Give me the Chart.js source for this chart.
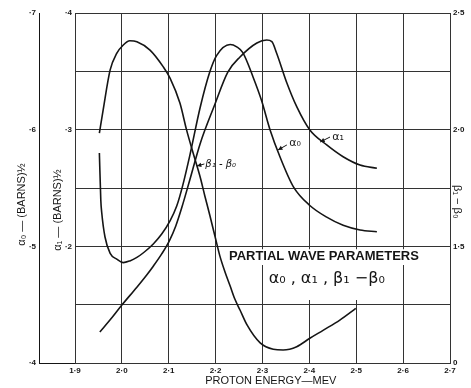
<!DOCTYPE html>
<html>
<head>
<meta charset="utf-8">
<script src="https://cdn.jsdelivr.net/npm/chart.js@4.4.1/dist/chart.umd.min.js"></script>
<style>
  html, body { margin: 0; padding: 0; background: #fff; }
</style>
</head>
<body>
<canvas id="chart" width="471" height="388"></canvas>
<script>
// values (energy in MeV)
const alpha0Energy = [1.952, 1.955, 1.957, 1.964, 1.975, 1.989, 2.003, 2.017, 2.032, 2.046, 2.067, 2.085, 2.103, 2.117, 2.130, 2.145, 2.167, 2.188, 2.202, 2.231, 2.245, 2.258, 2.280, 2.298, 2.316, 2.337, 2.366, 2.401, 2.437, 2.472, 2.508, 2.544];
const alpha0Values = [0.580, 0.540, 0.529, 0.508, 0.494, 0.489, 0.486, 0.4875, 0.4905, 0.4945, 0.502, 0.5105, 0.522, 0.5345, 0.5525, 0.578, 0.619, 0.650, 0.6635, 0.673, 0.671, 0.666, 0.645, 0.625, 0.600, 0.577, 0.551, 0.535, 0.525, 0.518, 0.514, 0.5125];

const alpha1Energy = [1.953, 1.975, 2.000, 2.032, 2.053, 2.067, 2.085, 2.101, 2.115, 2.128, 2.145, 2.167, 2.197, 2.226, 2.252, 2.288, 2.309, 2.320, 2.330, 2.352, 2.373, 2.401, 2.437, 2.472, 2.508, 2.544];
const alpha1Values = [0.1266, 0.137, 0.1497, 0.165, 0.1755, 0.183, 0.1935, 0.2045, 0.2175, 0.2335, 0.257, 0.288, 0.3203, 0.3494, 0.3623, 0.3743, 0.3768, 0.3754, 0.3657, 0.3400, 0.3197, 0.2997, 0.2869, 0.2768, 0.2697, 0.2669];

const betaEnergy = [1.952, 1.960, 1.975, 1.989, 2.003, 2.017, 2.032, 2.060, 2.088, 2.103, 2.124, 2.138, 2.152, 2.167, 2.177, 2.188, 2.199, 2.209, 2.220, 2.231, 2.241, 2.252, 2.267, 2.295, 2.323, 2.344, 2.373, 2.401, 2.430, 2.465, 2.499];
const betaValues = [1.985, 2.084, 2.256, 2.327, 2.363, 2.381, 2.377, 2.341, 2.270, 2.220, 2.113, 1.999, 1.900, 1.797, 1.716, 1.630, 1.540, 1.459, 1.390, 1.330, 1.274, 1.227, 1.163, 1.086, 1.059, 1.056, 1.070, 1.106, 1.141, 1.184, 1.234];

const xTickLabels = ['1·9', '2·0', '2·1', '2·2', '2·3', '2·4', '2·5', '2·6', '2·7'];
const alpha0TickLabels = ['·4', '·5', '·6', '·7'];
const alpha1TickLabels = ['', '', '·2', '', '·3', '', '·4'];
const betaTickLabels = ['0', '1·5', '2·0', '2·5'];

const ink = '#151515';
const gridInk = '#333';
const sans = "'Liberation Sans', 'DejaVu Sans', sans-serif";
const sp = '\u2002';

function toPoints(xs, ys) {
    return xs.map((x, i) => ({ x: x, y: ys[i] }));
}

function arrow(ctx, x1, y1, x2, y2) {
    const ang = Math.atan2(y2 - y1, x2 - x1);
    ctx.beginPath();
    ctx.moveTo(x1, y1);
    ctx.lineTo(x2, y2);
    ctx.stroke();
    ctx.beginPath();
    ctx.moveTo(x2, y2);
    ctx.lineTo(x2 - 5 * Math.cos(ang - 0.45), y2 - 5 * Math.sin(ang - 0.45));
    ctx.lineTo(x2 - 5 * Math.cos(ang + 0.45), y2 - 5 * Math.sin(ang + 0.45));
    ctx.closePath();
    ctx.fill();
}

const paperNotes = {
    id: 'paperNotes',
    beforeDatasetsDraw(chart) {
        const { ctx, scales: { x, a1 } } = chart;
        ctx.save();
        ctx.fillStyle = '#fff';
        // the draughtsman left the grid blank behind the caption
        ctx.fillRect(x.getPixelForValue(2.222), a1.getPixelForValue(0.1975), x.getPixelForValue(2.645) - x.getPixelForValue(2.222), a1.getPixelForValue(0.184) - a1.getPixelForValue(0.1975));
        ctx.fillRect(x.getPixelForValue(2.31), a1.getPixelForValue(0.184), x.getPixelForValue(2.585) - x.getPixelForValue(2.31), a1.getPixelForValue(0.154) - a1.getPixelForValue(0.184));
        ctx.restore();
    },
    afterDatasetsDraw(chart) {
        const { ctx, chartArea, scales: { x, a0, a1 } } = chart;
        ctx.save();
        ctx.fillStyle = ink;
        ctx.strokeStyle = ink;
        ctx.lineWidth = 1;

        // bottom rule runs out to the outer axis
        ctx.beginPath();
        ctx.moveTo(a0.right, chartArea.bottom + 0.5);
        ctx.lineTo(chartArea.left, chartArea.bottom + 0.5);
        ctx.stroke();

        ctx.textBaseline = 'middle';
        ctx.textAlign = 'center';
        ctx.font = 'bold 13px ' + sans;
        ctx.fillText('PARTIAL WAVE PARAMETERS', x.getPixelForValue(2.431), a1.getPixelForValue(0.1915), 192);
        ctx.font = "16px 'DejaVu Sans', sans-serif";
        ctx.fillText('α₀ , α₁ , β₁ −β₀', x.getPixelForValue(2.437), a1.getPixelForValue(0.172), 130);

        ctx.textAlign = 'left';
        ctx.font = "11px 'DejaVu Sans', sans-serif";
        ctx.fillText('α₀', x.getPixelForValue(2.357), a1.getPixelForValue(0.2886));
        arrow(ctx, x.getPixelForValue(2.352), a1.getPixelForValue(0.2869), x.getPixelForValue(2.333), a1.getPixelForValue(0.2826));
        ctx.fillText('α₁', x.getPixelForValue(2.449), a1.getPixelForValue(0.2937));
        arrow(ctx, x.getPixelForValue(2.444), a1.getPixelForValue(0.2937), x.getPixelForValue(2.423), a1.getPixelForValue(0.2894));
        ctx.font = "italic 10px 'DejaVu Sans', sans-serif";
        ctx.fillText('β₁ - β₀', x.getPixelForValue(2.178), a1.getPixelForValue(0.2706));
        arrow(ctx, x.getPixelForValue(2.176), a1.getPixelForValue(0.2706), x.getPixelForValue(2.160), a1.getPixelForValue(0.2689));
        ctx.restore();
    }
};

const tickFont = { family: sans, size: 8, weight: 'bold' };
const titleFont = { family: sans, size: 11 };

new Chart(document.getElementById('chart'), {
    type: 'line',
    data: {
        datasets: [{
            label: 'α0',
            data: toPoints(alpha0Energy, alpha0Values),
            yAxisID: 'a0',
            borderColor: ink,
            borderWidth: 1.6
        },
        {
            label: 'α1',
            data: toPoints(alpha1Energy, alpha1Values),
            yAxisID: 'a1',
            borderColor: ink,
            borderWidth: 1.6
        },
        {
            label: 'β1 - β0',
            data: toPoints(betaEnergy, betaValues),
            yAxisID: 'b',
            borderColor: ink,
            borderWidth: 1.6
        }]
    },
    options: {
        responsive: false,
        animation: false,
        devicePixelRatio: 1,
        layout: { padding: { top: 13, left: 0, right: 0, bottom: 0 } },
        elements: {
            point: { radius: 0 },
            line: { cubicInterpolationMode: 'monotone', fill: false }
        },
        plugins: { legend: { display: false }, tooltip: { enabled: false } },
        scales: {
            x: {
                type: 'linear',
                min: 1.9,
                max: 2.7,
                ticks: { stepSize: 0.1, autoSkip: false, maxRotation: 0, padding: 3, color: ink, font: tickFont,
                    callback: (v, i) => xTickLabels[i] },
                grid: { color: gridInk, lineWidth: 1, drawTicks: false },
                border: { color: gridInk, width: 1 },
                title: { display: true, text: sp + sp + sp + 'PROTON ENERGY—MEV', color: ink, font: titleFont, padding: { top: 0, bottom: 0 } },
                afterFit: s => { s.height = 25; }
            },
            a1: {
                position: 'left',
                weight: 0,
                min: 0.1,
                max: 0.4,
                ticks: { stepSize: 0.05, padding: 3, color: ink, font: tickFont,
                    callback: (v, i) => alpha1TickLabels[i] },
                grid: { color: gridInk, lineWidth: 1, drawTicks: false },
                border: { color: gridInk, width: 1 },
                title: { display: true, text: 'α₁ — (BARNS)½' + sp.repeat(8), color: ink, font: titleFont, padding: { top: 12, bottom: 0 } },
                afterFit: s => { s.width = 36; }
            },
            a0: {
                position: 'left',
                weight: 1,
                min: 0.4,
                max: 0.7,
                ticks: { stepSize: 0.1, padding: 3, color: ink, font: tickFont,
                    callback: (v, i) => alpha0TickLabels[i] },
                grid: { drawOnChartArea: false, drawTicks: false },
                border: { display: true, color: ink, width: 1 },
                title: { display: true, text: 'α₀ — (BARNS)½' + sp.repeat(6), color: ink, font: titleFont, padding: { top: 15, bottom: 0 } },
                afterFit: s => { s.width = 39; }
            },
            b: {
                position: 'right',
                min: 1.0,
                max: 2.5,
                ticks: { stepSize: 0.5, padding: 3, color: ink, font: tickFont,
                    callback: (v, i) => betaTickLabels[i] },
                grid: { drawOnChartArea: false, drawTicks: false },
                border: { display: true, color: gridInk, width: 1 },
                title: { display: true, text: sp.repeat(5) + 'β₁ − β₀', color: ink, font: titleFont, padding: { top: 7, bottom: 0 } },
                afterFit: s => { s.width = 21; }
            }
        }
    },
    plugins: [paperNotes]
});
</script>
</body>
</html>
